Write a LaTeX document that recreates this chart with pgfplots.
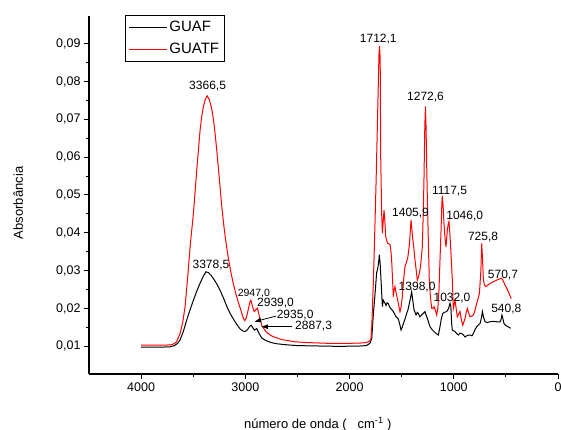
\documentclass[border=0pt]{standalone}
\usepackage{pgfplots}
\pgfplotsset{compat=1.18}
\usepackage{fontspec}
\setmainfont{Liberation Sans}
\usetikzlibrary{arrows.meta}

% GUAF
\pgfplotstableread{
x y
4000 0.0098
3900 0.0098
3800 0.0098
3720 0.0099
3680 0.0102
3650 0.0108
3626 0.0117
3594 0.0140
3562 0.0170
3530 0.0197
3498 0.0222
3466 0.0246
3434 0.0267
3402 0.0286
3378 0.0297
3354 0.0295
3330 0.0288
3306 0.0279
3274 0.0265
3242 0.0248
3210 0.0228
3178 0.0206
3146 0.0187
3114 0.0172
3082 0.0158
3050 0.0146
3020 0.0140
3002 0.0139
2980 0.0144
2960 0.0152
2945 0.0156
2930 0.0150
2913 0.0143
2890 0.0147
2870 0.0135
2842 0.0122
2800 0.0115
2750 0.0110
2700 0.0107
2600 0.0104
2500 0.0102
2300 0.0101
2100 0.0100
1900 0.0101
1840 0.0102
1820 0.0105
1800 0.0110
1787 0.0122
1771 0.0187
1755 0.0240
1740 0.0295
1733 0.0302
1724 0.0315
1714 0.0342
1706 0.0318
1698 0.0275
1685 0.0205
1677 0.0222
1669 0.0218
1660 0.0214
1650 0.0208
1640 0.0215
1628 0.0213
1615 0.0204
1605 0.0200
1592 0.0196
1580 0.0192
1567 0.0185
1554 0.0178
1543 0.0176
1532 0.0172
1518 0.0158
1506 0.0143
1495 0.0150
1484 0.0160
1468 0.0172
1452 0.0187
1440 0.0196
1426 0.0214
1415 0.0228
1404 0.0244
1395 0.0225
1381 0.0196
1362 0.0183
1350 0.0190
1340 0.0187
1325 0.0178
1308 0.0183
1290 0.0188
1276 0.0192
1265 0.0182
1254 0.0174
1240 0.0162
1228 0.0152
1210 0.0145
1189 0.0139
1170 0.0134
1148 0.0130
1135 0.0148
1120 0.0172
1106 0.0187
1090 0.0190
1068 0.0192
1050 0.0200
1036 0.0214
1028 0.0205
1020 0.0160
1014 0.0143
1000 0.0141
988 0.0139
970 0.0133
956 0.0130
940 0.0135
924 0.0134
908 0.0130
892 0.0125
870 0.0129
844 0.0130
825 0.0128
812 0.0134
795 0.0145
780 0.0152
760 0.0158
748 0.0160
735 0.0175
725 0.0192
715 0.0178
700 0.0165
680 0.0163
652 0.0165
620 0.0166
588 0.0165
556 0.0165
545 0.0172
538 0.0183
530 0.0175
518 0.0160
500 0.0155
480 0.0152
454 0.0148
}\guaf

% GUATF
\pgfplotstableread{
x y
4000 0.0103
3900 0.0103
3800 0.0103
3720 0.0104
3690 0.0106
3660 0.0112
3626 0.0134
3600 0.0165
3578 0.0205
3554 0.0280
3530 0.0363
3498 0.0452
3466 0.0566
3434 0.0672
3418 0.0708
3402 0.0734
3385 0.0752
3366 0.0762
3345 0.0752
3322 0.0727
3306 0.0700
3290 0.0662
3274 0.0618
3258 0.0570
3242 0.0520
3226 0.0470
3210 0.0428
3194 0.0392
3178 0.0360
3162 0.0332
3138 0.0295
3114 0.0264
3090 0.0238
3066 0.0215
3042 0.0195
3020 0.0175
3005 0.0168
2990 0.0175
2970 0.0200
2955 0.0218
2947 0.0222
2935 0.0210
2920 0.0195
2913 0.0192
2900 0.0197
2884 0.0201
2870 0.0185
2842 0.0155
2800 0.0138
2750 0.0128
2715 0.0124
2650 0.0118
2523 0.0112
2400 0.0110
2200 0.0108
2000 0.0108
1880 0.0109
1840 0.0110
1815 0.0113
1796 0.0117
1787 0.0152
1771 0.0275
1755 0.0434
1745 0.0540
1730 0.0720
1718 0.0870
1712 0.0893
1706 0.0860
1701 0.0600
1692 0.0452
1685 0.0399
1677 0.0430
1669 0.0460
1661 0.0430
1653 0.0390
1637 0.0373
1612 0.0369
1604 0.0355
1596 0.0328
1588 0.0280
1580 0.0231
1572 0.0250
1564 0.0258
1556 0.0245
1548 0.0235
1532 0.0214
1516 0.0192
1505 0.0205
1494 0.0231
1480 0.0280
1468 0.0311
1455 0.0322
1442 0.0333
1426 0.0368
1418 0.0400
1410 0.0434
1402 0.0410
1394 0.0385
1383 0.0360
1372 0.0328
1360 0.0300
1350 0.0275
1337 0.0285
1324 0.0302
1312 0.0330
1302 0.0363
1293 0.0450
1286 0.0540
1278 0.0680
1272 0.0734
1266 0.0680
1260 0.0580
1254 0.0496
1245 0.0390
1235 0.0275
1224 0.0230
1212 0.0201
1200 0.0200
1189 0.0205
1176 0.0195
1164 0.0183
1153 0.0200
1142 0.0249
1132 0.0330
1122 0.0408
1114 0.0480
1110 0.0498
1102 0.0470
1094 0.0425
1085 0.0390
1075 0.0363
1068 0.0385
1062 0.0408
1052 0.0425
1046 0.0430
1038 0.0400
1030 0.0363
1022 0.0320
1014 0.0275
1004 0.0200
996 0.0210
988 0.0222
977 0.0200
966 0.0178
953 0.0185
940 0.0192
927 0.0170
914 0.0156
903 0.0165
892 0.0174
880 0.0190
870 0.0200
857 0.0188
844 0.0178
828 0.0180
812 0.0183
796 0.0195
780 0.0214
765 0.0228
754 0.0240
740 0.0300
732 0.0372
724 0.0330
716 0.0275
705 0.0262
693 0.0258
672 0.0262
652 0.0266
620 0.0271
588 0.0275
564 0.0278
540 0.0280
524 0.0272
508 0.0262
492 0.0254
476 0.0244
462 0.0235
450 0.0226
}\guatf

\begin{document}
\begin{tikzpicture}
\begin{axis}[
    at={(0,0)}, anchor=south west,
    scale only axis,
    width=469pt, height=358pt,
    x dir=reverse,
    xmin=0, xmax=4500,
    ymin=0.0027, ymax=0.0973,
    axis x line*=bottom,
    axis y line*=left,
    axis line style={line width=1.1pt},
    tick style={line width=1pt, black},
    tick align=outside,
    major tick length=5pt,
    minor tick length=3pt,
    xtick={0,1000,2000,3000,4000},
    minor x tick num=1,
    ytick={0.01,0.02,0.03,0.04,0.05,0.06,0.07,0.08,0.09},
    minor y tick num=1,
    scaled x ticks=false,
    scaled y ticks=false,
    xticklabel style={/pgf/number format/1000 sep={}},
    yticklabel style={/pgf/number format/.cd, fixed, fixed zerofill, precision=2, use comma},
    /pgf/number format/assume math mode=true,
    ticklabel style={font=\fontsize{12.5}{14}\selectfont},
    xlabel={número de onda (\ \ \ cm\textsuperscript{-1} )},
    ylabel={Absorbância},
    every axis x label/.style={at={(axis description cs:0.488,-0.14)}, anchor=center, font=\fontsize{13}{15}\selectfont},
    every axis y label/.style={at={(axis description cs:-0.151,0.478)}, rotate=90, anchor=center, font=\fontsize{13}{15}\selectfont},
    legend style={at={(axis description cs:0.0768,1.003)}, anchor=north west,
        draw=black, line width=0.8pt, fill=white,
        font=\fontsize{15}{17}\selectfont, cells={anchor=west},
        inner xsep=3pt, inner ysep=4pt, row sep=6pt},
    legend image code/.code={\draw[#1, line width=1pt] (0pt,0pt) -- (38pt,0pt);},
    clip=false,
]
\addplot[black, line width=1pt] table[x=x, y=y] {\guaf};
\addplot[red, line width=1pt] table[x=x, y=y] {\guatf};
\legend{GUAF,GUATF}

\begin{scope}[every node/.style={font=\fontsize{12}{14}\selectfont, inner sep=0pt}]
\node at (axis cs:3362,0.0789) {3366,5};
\node at (axis cs:3330,0.0315) {3378,5};
\node[font=\fontsize{10.5}{12}\selectfont] at (axis cs:2918,0.0240) {2947,0};
\node at (axis cs:2710,0.0214) {2939,0};
\node[anchor=west] at (axis cs:2700,0.0183) {2935,0};
\node[anchor=west] at (axis cs:2523,0.0154) {2887,3};
\node at (axis cs:1724,0.0912) {1712,1};
\node at (axis cs:1271,0.0758) {1272,6};
\node at (axis cs:1041,0.0509) {1117,5};
\node at (axis cs:1415,0.0452) {1405,9};
\node at (axis cs:895,0.0445) {1046,0};
\node at (axis cs:719,0.0390) {725,8};
\node at (axis cs:528,0.0289) {570,7};
\node at (axis cs:1352,0.0256) {1398,0};
\node at (axis cs:1017,0.0227) {1032,0};
\node at (axis cs:496,0.0198) {540,8};
\end{scope}
\draw[line width=0.8pt, -{Latex[length=7pt,width=5pt]}] (axis cs:2705,0.0180) -- (axis cs:2916,0.0165);
\draw[line width=0.8pt, -{Latex[length=7pt,width=5pt]}] (axis cs:2555,0.0152) -- (axis cs:2850,0.0152);
\end{axis}
\pgfresetboundingbox
\path[use as bounding box] (-89pt,-56pt) rectangle (472pt,374pt);
\end{tikzpicture}
\end{document}
